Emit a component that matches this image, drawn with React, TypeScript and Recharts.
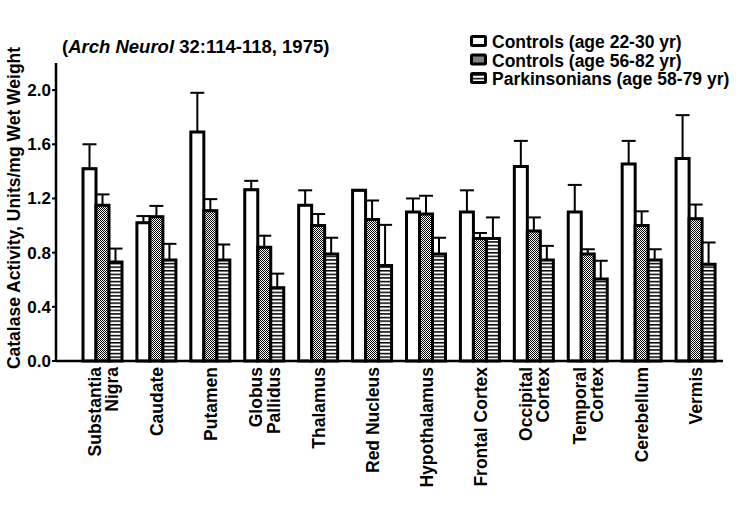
import React from 'react';
import { BarChart, Bar, XAxis, YAxis, ErrorBar, Legend, Customized } from 'recharts';

// Brain regions (line breaks mark two-line axis labels)
const regions = [
  'Substantia\nNigra',
  'Caudate',
  'Putamen',
  'Globus\nPallidus',
  'Thalamus',
  'Red Nucleus',
  'Hypothalamus',
  'Frontal Cortex',
  'Occipital\nCortex',
  'Temporal\nCortex',
  'Cerebellum',
  'Vermis',
];

// Catalase activity, units/mg wet weight: means and upper error (SEM)
const youngMean = [1.42, 1.02, 1.69, 1.265, 1.15, 1.26, 1.1, 1.1, 1.435, 1.1, 1.455, 1.495];
const youngSem = [0.18, 0.05, 0.29, 0.065, 0.11, 0, 0.1, 0.16, 0.19, 0.2, 0.17, 0.32];
const olderMean = [1.15, 1.065, 1.11, 0.84, 1.0, 1.045, 1.085, 0.905, 0.96, 0.79, 1.0, 1.05];
const olderSem = [0.08, 0.08, 0.085, 0.085, 0.085, 0.14, 0.135, 0.04, 0.1, 0.035, 0.105, 0.105];
const parkMean = [0.73, 0.745, 0.745, 0.54, 0.79, 0.705, 0.79, 0.905, 0.745, 0.605, 0.745, 0.715];
const parkSem = [0.1, 0.12, 0.115, 0.105, 0.12, 0.3, 0.12, 0.155, 0.105, 0.135, 0.08, 0.16];

const yTicks = [0, 0.4, 0.8, 1.2, 1.6, 2.0];
const seriesNames = ['Controls (age 22-30 yr)', 'Controls (age 56-82 yr)', 'Parkinsonians (age 58-79 yr)'];

const FONT = '"Liberation Sans", Arial, Helvetica, sans-serif';

const rows = regions.map((region, i) => ({
  region,
  young: youngMean[i],
  youngErr: [0, youngSem[i]],
  older: olderMean[i],
  olderErr: [0, olderSem[i]],
  park: parkMean[i],
  parkErr: [0, parkSem[i]],
}));

function RegionTick(props: any) {
  const { x, y, payload } = props;
  const lines = String(payload.value).split('\n');
  const lh = 17.5;
  const first = 6.3 - ((lines.length - 1) * lh) / 2;
  return (
    <g transform={`translate(${x},${y})`}>
      <text
        transform="rotate(-90)"
        textAnchor="end"
        fontFamily={FONT}
        fontSize={17.5}
        fontWeight="bold"
        fill="#000"
      >
        {lines.map((l, k) => (
          <tspan key={k} x={-6} y={first + k * lh}>
            {l}
          </tspan>
        ))}
      </text>
    </g>
  );
}

function LegendBlock(props: any) {
  const { payload = [] } = props;
  return (
    <svg width={275} height={62} style={{ display: 'block', overflow: 'visible' }}>
      {payload.map((entry: any, i: number) => (
        <g key={entry.value} transform={`translate(0, ${i * 18.5})`}>
          <rect x={3.5} y={6.5} width={14} height={9} rx={1} fill={entry.color} stroke="#000" strokeWidth={3} />
          <text x={24} y={18} fontFamily={FONT} fontSize={17.5} fontWeight="bold" fill="#000">
            {entry.value}
          </text>
        </g>
      ))}
    </svg>
  );
}

function Titles() {
  return (
    <g>
      <text x={62} y={53} fontFamily={FONT} fontSize={18.5} fontWeight="bold" fill="#000">
        (<tspan fontStyle="italic">Arch Neurol</tspan> 32:114-118, 1975)
      </text>
      <text
        transform="translate(20,208) rotate(-90)"
        textAnchor="middle"
        fontFamily={FONT}
        fontSize={17.5}
        fontWeight="bold"
        fill="#000"
      >
        Catalase Activity, Units/mg Wet Weight
      </text>
    </g>
  );
}

export default function App() {
  return (
    <div style={{ position: 'absolute', left: 0, top: 0, width: 743, height: 511, background: '#fff' }}>
      <BarChart
        width={743}
        height={511}
        data={rows}
        margin={{ top: 63, right: 20, bottom: 0, left: 0 }}
        barGap={0}
        barSize={13}
      >
        <defs>
          <pattern id="olderFill" width={2} height={2} patternUnits="userSpaceOnUse">
            <rect width={2} height={2} fill="#fff" />
            <rect width={1} height={1} fill="#000" />
            <rect x={1} y={1} width={1} height={1} fill="#000" />
          </pattern>
          <pattern id="parkFill" width={4} height={3.6} patternUnits="userSpaceOnUse">
            <rect width={4} height={3.6} fill="#fff" />
            <rect width={4} height={1.5} fill="#000" />
          </pattern>
        </defs>
        <XAxis
          dataKey="region"
          height={150}
          interval={0}
          padding={{ left: 20, right: 0 }}
          tickLine={false}
          tickSize={0}
          tickMargin={0}
          axisLine={{ stroke: '#000', strokeWidth: 2.5 }}
          tick={<RegionTick />}
        />
        <YAxis
          width={56}
          domain={[0, 2.2]}
          ticks={yTicks}
          interval={0}
          tickFormatter={(v: number) => v.toFixed(1)}
          tickSize={4}
          tickMargin={1}
          axisLine={{ stroke: '#000', strokeWidth: 2.5 }}
          tickLine={{ stroke: '#000', strokeWidth: 2 }}
          tick={{ fill: '#000', fontSize: 17, fontWeight: 'bold', fontFamily: FONT }}
        />
        <Legend
          layout="vertical"
          align="center"
          verticalAlign="middle"
          content={<LegendBlock />}
          wrapperStyle={{ left: 468, top: 30, width: 275, height: 62 }}
        />
        <Bar dataKey="young" name={seriesNames[0]} fill="#fff" stroke="#000" strokeWidth={3} isAnimationActive={false}>
          <ErrorBar dataKey="youngErr" width={7} stroke="#000" strokeWidth={2} direction="y" />
        </Bar>
        <Bar dataKey="older" name={seriesNames[1]} fill="url(#olderFill)" stroke="#000" strokeWidth={3} isAnimationActive={false}>
          <ErrorBar dataKey="olderErr" width={7} stroke="#000" strokeWidth={2} direction="y" />
        </Bar>
        <Bar dataKey="park" name={seriesNames[2]} fill="url(#parkFill)" stroke="#000" strokeWidth={3} isAnimationActive={false}>
          <ErrorBar dataKey="parkErr" width={7} stroke="#000" strokeWidth={2} direction="y" />
        </Bar>
        <Customized component={Titles} />
      </BarChart>
    </div>
  );
}
